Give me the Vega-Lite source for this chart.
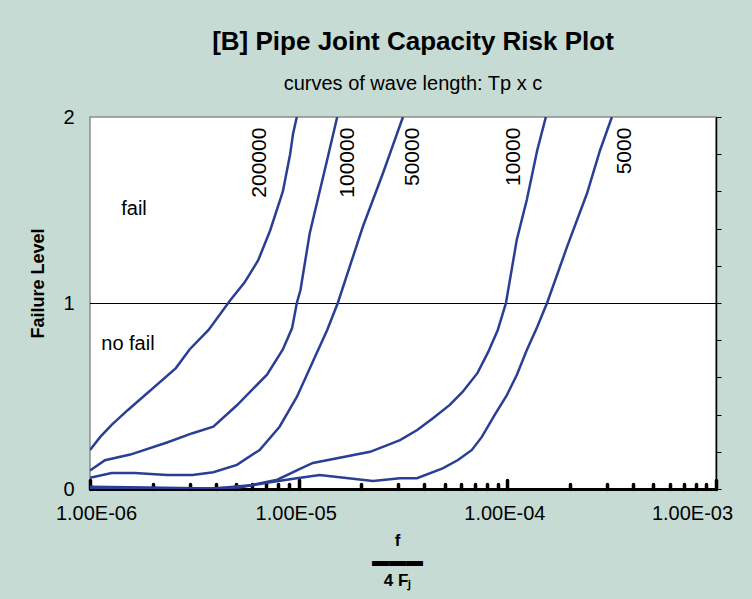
{
  "$schema": "https://vega.github.io/schema/vega-lite/v6.json",
  "width": 626,
  "height": 372,
  "autosize": "none",
  "padding": {"left": 90, "top": 117, "right": 36, "bottom": 110},
  "background": "#c6dbd3",
  "config": {
    "font": "Liberation Sans",
    "view": {"fill": "white", "stroke": "#8c8c8c", "strokeWidth": 1.5}
  },
  "title": {
    "text": "[B] Pipe Joint Capacity Risk Plot",
    "subtitle": "curves of wave length: Tp x c",
    "anchor": "middle",
    "frame": "group",
    "dx": 10,
    "offset": 13,
    "font": "Liberation Sans",
    "fontSize": 26,
    "fontWeight": "bold",
    "color": "black",
    "subtitleFont": "Liberation Sans",
    "subtitleFontSize": 20,
    "subtitleColor": "black",
    "subtitlePadding": 19
  },
  "datasets": {
    "curves": [
      {"wave": "200000", "f": 1.0e-6, "level": 0.21},
      {"wave": "200000", "f": 1.12e-6, "level": 0.28},
      {"wave": "200000", "f": 1.27e-6, "level": 0.345},
      {"wave": "200000", "f": 1.52e-6, "level": 0.425},
      {"wave": "200000", "f": 2.58e-6, "level": 0.65},
      {"wave": "200000", "f": 3.0e-6, "level": 0.75},
      {"wave": "200000", "f": 3.7e-6, "level": 0.855},
      {"wave": "200000", "f": 4.7e-6, "level": 1.015},
      {"wave": "200000", "f": 5.5e-6, "level": 1.11},
      {"wave": "200000", "f": 6.4e-6, "level": 1.23},
      {"wave": "200000", "f": 7.3e-6, "level": 1.39},
      {"wave": "200000", "f": 8.4e-6, "level": 1.6},
      {"wave": "200000", "f": 9.1e-6, "level": 1.8},
      {"wave": "200000", "f": 9.4e-6, "level": 1.91},
      {"wave": "200000", "f": 9.8e-6, "level": 2.0},

      {"wave": "100000", "f": 1.0e-6, "level": 0.1},
      {"wave": "100000", "f": 1.18e-6, "level": 0.155},
      {"wave": "100000", "f": 1.56e-6, "level": 0.185},
      {"wave": "100000", "f": 2.34e-6, "level": 0.25},
      {"wave": "100000", "f": 3.1e-6, "level": 0.3},
      {"wave": "100000", "f": 3.9e-6, "level": 0.335},
      {"wave": "100000", "f": 5.06e-6, "level": 0.45},
      {"wave": "100000", "f": 7.05e-6, "level": 0.615},
      {"wave": "100000", "f": 8.4e-6, "level": 0.75},
      {"wave": "100000", "f": 9.3e-6, "level": 0.865},
      {"wave": "100000", "f": 9.8e-6, "level": 1.0},
      {"wave": "100000", "f": 1.02e-5, "level": 1.07},
      {"wave": "100000", "f": 1.13e-5, "level": 1.375},
      {"wave": "100000", "f": 1.37e-5, "level": 1.77},
      {"wave": "100000", "f": 1.53e-5, "level": 2.0},

      {"wave": "50000", "f": 1.0e-6, "level": 0.06},
      {"wave": "50000", "f": 1.27e-6, "level": 0.086},
      {"wave": "50000", "f": 1.64e-6, "level": 0.086},
      {"wave": "50000", "f": 2.34e-6, "level": 0.075},
      {"wave": "50000", "f": 3.1e-6, "level": 0.075},
      {"wave": "50000", "f": 3.9e-6, "level": 0.09},
      {"wave": "50000", "f": 5.06e-6, "level": 0.13},
      {"wave": "50000", "f": 6.5e-6, "level": 0.21},
      {"wave": "50000", "f": 8.1e-6, "level": 0.335},
      {"wave": "50000", "f": 9.8e-6, "level": 0.495},
      {"wave": "50000", "f": 1.17e-5, "level": 0.685},
      {"wave": "50000", "f": 1.37e-5, "level": 0.855},
      {"wave": "50000", "f": 1.54e-5, "level": 1.0},
      {"wave": "50000", "f": 2.03e-5, "level": 1.41},
      {"wave": "50000", "f": 2.54e-5, "level": 1.7},
      {"wave": "50000", "f": 3.16e-5, "level": 2.0},

      {"wave": "10000", "f": 1.0e-6, "level": 0.012},
      {"wave": "10000", "f": 1.9e-6, "level": 0.008},
      {"wave": "10000", "f": 3.9e-6, "level": 0.003},
      {"wave": "10000", "f": 4.9e-6, "level": 0.012},
      {"wave": "10000", "f": 6.0e-6, "level": 0.022},
      {"wave": "10000", "f": 7.9e-6, "level": 0.05},
      {"wave": "10000", "f": 1.02e-5, "level": 0.11},
      {"wave": "10000", "f": 1.17e-5, "level": 0.14},
      {"wave": "10000", "f": 2.2e-5, "level": 0.2},
      {"wave": "10000", "f": 3.06e-5, "level": 0.263},
      {"wave": "10000", "f": 3.7e-5, "level": 0.317},
      {"wave": "10000", "f": 4.4e-5, "level": 0.38},
      {"wave": "10000", "f": 5.3e-5, "level": 0.452},
      {"wave": "10000", "f": 6.1e-5, "level": 0.522},
      {"wave": "10000", "f": 7.2e-5, "level": 0.624},
      {"wave": "10000", "f": 8.1e-5, "level": 0.737},
      {"wave": "10000", "f": 9.0e-5, "level": 0.855},
      {"wave": "10000", "f": 9.85e-5, "level": 1.0},
      {"wave": "10000", "f": 1.11e-4, "level": 1.34},
      {"wave": "10000", "f": 1.24e-4, "level": 1.555},
      {"wave": "10000", "f": 1.39e-4, "level": 1.82},
      {"wave": "10000", "f": 1.53e-4, "level": 2.0},

      {"wave": "5000", "f": 1.0e-6, "level": 0.006},
      {"wave": "5000", "f": 1.9e-6, "level": 0.004},
      {"wave": "5000", "f": 3.4e-6, "level": 0.002},
      {"wave": "5000", "f": 5.2e-6, "level": 0.008},
      {"wave": "5000", "f": 7.05e-6, "level": 0.034},
      {"wave": "5000", "f": 9.8e-6, "level": 0.058},
      {"wave": "5000", "f": 1.26e-5, "level": 0.075},
      {"wave": "5000", "f": 2.27e-5, "level": 0.043},
      {"wave": "5000", "f": 3.06e-5, "level": 0.058},
      {"wave": "5000", "f": 3.69e-5, "level": 0.058},
      {"wave": "5000", "f": 4.9e-5, "level": 0.111},
      {"wave": "5000", "f": 5.8e-5, "level": 0.156},
      {"wave": "5000", "f": 6.76e-5, "level": 0.21},
      {"wave": "5000", "f": 7.55e-5, "level": 0.28},
      {"wave": "5000", "f": 8.7e-5, "level": 0.398},
      {"wave": "5000", "f": 9.95e-5, "level": 0.505},
      {"wave": "5000", "f": 1.11e-4, "level": 0.613},
      {"wave": "5000", "f": 1.24e-4, "level": 0.747},
      {"wave": "5000", "f": 1.39e-4, "level": 0.871},
      {"wave": "5000", "f": 1.55e-4, "level": 1.0},
      {"wave": "5000", "f": 1.93e-4, "level": 1.3},
      {"wave": "5000", "f": 2.41e-4, "level": 1.59},
      {"wave": "5000", "f": 2.78e-4, "level": 1.82},
      {"wave": "5000", "f": 3.17e-4, "level": 2.0}
    ],
    "curveLabels": [
      {"wave": "200000", "f": 6.53e-6, "level": 1.943},
      {"wave": "100000", "f": 1.73e-5, "level": 1.943},
      {"wave": "50000", "f": 3.55e-5, "level": 1.943},
      {"wave": "10000", "f": 1.08e-4, "level": 1.943},
      {"wave": "5000", "f": 3.68e-4, "level": 1.943}
    ],
    "zones": [
      {"zone": "fail", "f": 1.625e-6, "level": 1.473},
      {"zone": "no fail", "f": 1.52e-6, "level": 0.747}
    ],
    "threshold": [
      {"level": 1}
    ]
  },
  "resolve": {"axis": {"y": "independent"}},
  "layer": [
    {
      "data": {"name": "threshold"},
      "mark": {"type": "rule", "color": "black", "strokeWidth": 1, "yOffset": 0.5},
      "encoding": {
        "y": {
          "field": "level",
          "type": "quantitative",
          "scale": {"domain": [0, 2], "nice": false, "zero": false},
          "axis": {
            "orient": "right",
            "values": [0, 0.2, 0.4, 0.6, 0.8, 1, 1.2, 1.4, 1.6, 1.8, 2],
            "labels": false,
            "grid": false,
            "title": null,
            "ticks": true,
            "tickSize": 5,
            "tickWidth": 1,
            "tickColor": "black",
            "domain": true,
            "domainColor": "black",
            "domainWidth": 1.5
          }
        }
      }
    },
    {
      "data": {"name": "curves"},
      "mark": {"type": "line", "color": "#2a3f94", "strokeWidth": 2.5, "clip": true},
      "encoding": {
        "x": {
          "field": "f",
          "type": "quantitative",
          "scale": {"type": "log", "domain": [1e-6, 1e-3], "nice": false},
          "axis": {
            "orient": "bottom",
            "values": [1e-6, 2e-6, 3e-6, 4e-6, 5e-6, 6e-6, 7e-6, 8e-6, 9e-6,
                       1e-5, 2e-5, 3e-5, 4e-5, 5e-5, 6e-5, 7e-5, 8e-5, 9e-5,
                       1e-4, 2e-4, 3e-4, 4e-4, 5e-4, 6e-4, 7e-4, 8e-4, 9e-4, 1e-3],
            "labelExpr": "abs(log(datum.value)/LN10 - round(log(datum.value)/LN10)) < 0.001 ? '1.00E-0' + (-round(log(datum.value)/LN10)) : ''",
            "labelFontSize": 20,
            "labelColor": "black",
            "labelPadding": 23,
            "labelOverlap": false,
            "labelBound": false,
            "labelFlush": false,
            "labelOffset": {
              "condition": [
                {"test": "datum.value < 1.5e-6", "value": 6},
                {"test": "datum.value > 9.5e-4", "value": -24}
              ],
              "value": -3
            },
            "tickSize": {
              "condition": {"test": "abs(log(datum.value)/LN10 - round(log(datum.value)/LN10)) < 0.001", "value": -9},
              "value": -5
            },
            "tickWidth": 3.5,
            "tickColor": "black",
            "tickCap": "round",
            "domainColor": "black",
            "domainWidth": 3,
            "grid": false,
            "title": ["f", "▬▬▬", "4 Fⱼ"],
            "titleFontSize": 17,
            "titleFontWeight": "bold",
            "titleColor": "black",
            "titleLineHeight": 20,
            "titleX": 307,
            "titleY": 56,
            "titleAlign": "center",
            "titleBaseline": "alphabetic"
          }
        },
        "y": {
          "field": "level",
          "type": "quantitative",
          "scale": {"domain": [0, 2], "nice": false, "zero": false},
          "axis": {
            "orient": "left",
            "values": [0, 1, 2],
            "labelExpr": "format(datum.value, '.0f')",
            "domain": false,
            "ticks": false,
            "grid": false,
            "labelFontSize": 20,
            "labelColor": "black",
            "labelPadding": 16,
            "labelOverlap": false,
            "labelBound": false,
            "labelFlush": false,
            "title": "Failure Level",
            "titleFontSize": 18,
            "titleFontWeight": "bold",
            "titleColor": "black",
            "titleX": -47,
            "titleY": 166,
            "titleAngle": -90,
            "titleAlign": "center",
            "titleBaseline": "alphabetic"
          }
        },
        "detail": {"field": "wave", "type": "nominal"}
      }
    },
    {
      "data": {"name": "curveLabels"},
      "mark": {"type": "text", "angle": 270, "align": "right", "baseline": "middle", "fontSize": 21, "color": "black"},
      "encoding": {
        "x": {"field": "f", "type": "quantitative"},
        "y": {"field": "level", "type": "quantitative", "axis": null},
        "text": {"field": "wave", "type": "nominal"}
      }
    },
    {
      "data": {"name": "zones"},
      "mark": {"type": "text", "align": "center", "baseline": "alphabetic", "fontSize": 20, "color": "black"},
      "encoding": {
        "x": {"field": "f", "type": "quantitative"},
        "y": {"field": "level", "type": "quantitative", "axis": null},
        "text": {"field": "zone", "type": "nominal"}
      }
    }
  ]
}
